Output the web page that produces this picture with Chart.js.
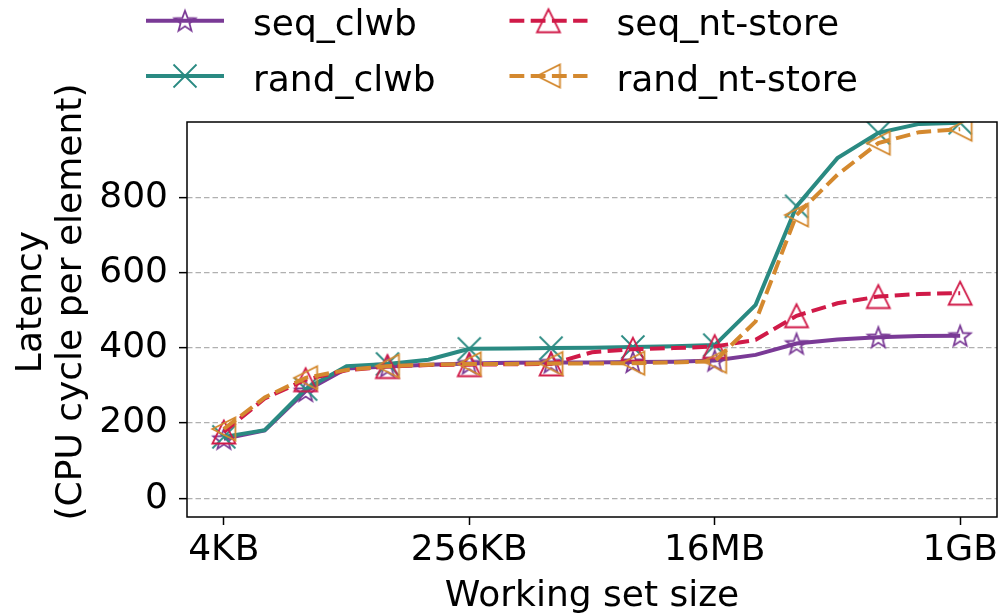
<!DOCTYPE html>
<html>
<head>
<meta charset="utf-8">
<script src="https://cdn.jsdelivr.net/npm/chart.js@4.4.1/dist/chart.umd.min.js"></script>
<style>
  html, body { margin: 0; padding: 0; background: #ffffff; }
  canvas { display: block; }
</style>
</head>
<body>
<canvas id="chart" width="1003" height="615"></canvas>
<script>
// Working set sizes as log2(bytes): 4KB (2^12) ... 1GB (2^30)
const sizeLog2 = [12, 13, 14, 15, 16, 17, 18, 19, 20, 21, 22, 23, 24, 25, 26, 27, 28, 29, 30];

// Latency in CPU cycles per element
const seqClwb     = [158, 180, 285, 345, 350, 355, 358, 360, 361, 361, 362, 363, 366, 381, 411, 422, 428, 431, 432];
const randClwb    = [163, 181, 290, 351, 357, 368, 397, 398, 399, 400, 402, 404, 407, 514, 776, 904, 971, 995, 998];
const seqNtStore  = [176, 265, 315, 340, 350, 354, 355, 356, 357, 388, 396, 399, 403, 421, 485, 518, 536, 543, 545];
const randNtStore = [184, 268, 320, 341, 351, 355, 357, 357, 358, 358, 359, 361, 364, 470, 753, 860, 944, 973, 981];

// Axis ticks
const xTickValues = [12, 18, 24, 30];
const xTickLabels = ['4KB', '256KB', '16MB', '1GB'];
const yTickValues = [0, 200, 400, 600, 800];

const FONT = '"DejaVu Sans", "Liberation Sans", sans-serif';
const FONT_SIZE = 36;

const COLORS = {
  seqClwb: '#7a3a96',
  randClwb: '#2a8a82',
  seqNt: '#d01a48',
  randNt: '#d4892f'
};

// Hollow marker glyphs drawn once onto small canvases
function makeMarker(shape, color) {
  const s = 32;
  const c = document.createElement('canvas');
  c.width = s; c.height = s;
  const g = c.getContext('2d');
  g.translate(s / 2, s / 2);
  g.strokeStyle = color;
  g.lineWidth = 1.8;
  g.lineJoin = 'miter';
  g.beginPath();
  if (shape === 'star') {
    const R = 11, r = R * 0.42;
    for (let k = 0; k < 10; k++) {
      const a = -Math.PI / 2 + k * Math.PI / 5;
      const rad = (k % 2) ? r : R;
      const px = Math.cos(a) * rad, py = Math.sin(a) * rad + 1;
      if (k === 0) g.moveTo(px, py); else g.lineTo(px, py);
    }
    g.closePath();
  } else if (shape === 'x') {
    const h = 11.5;
    g.moveTo(-h, -h); g.lineTo(h, h);
    g.moveTo(h, -h); g.lineTo(-h, h);
  } else if (shape === 'triUp') {
    const h = 11.5;
    g.moveTo(0, -h); g.lineTo(-h, h); g.lineTo(h, h); g.closePath();
  } else if (shape === 'triLeft') {
    const h = 11.5;
    g.moveTo(-h, 0); g.lineTo(h, -h); g.lineTo(h, h); g.closePath();
  }
  g.stroke();
  return c;
}

const markers = {
  seqClwb: makeMarker('star', COLORS.seqClwb),
  randClwb: makeMarker('x', COLORS.randClwb),
  seqNt: makeMarker('triUp', COLORS.seqNt),
  randNt: makeMarker('triLeft', COLORS.randNt)
};

const DASH = [14.8, 6.4];

function toPoints(values) {
  return values.map((v, i) => ({ x: sizeLog2[i], y: v }));
}

// markers on every other point
const everyOther = (ctx) => (ctx.dataIndex % 2 === 0 ? 11 : 0);

function series(label, values, key, dashed, order) {
  return {
    label,
    data: toPoints(values),
    borderColor: COLORS[key],
    backgroundColor: COLORS[key],
    borderWidth: 4,
    borderDash: dashed ? DASH : [],
    pointStyle: markers[key],
    pointRadius: everyOther,
    pointHoverRadius: everyOther,
    pointBorderWidth: 0,
    tension: 0,
    fill: false,
    clip: 0,
    order,
    legendKey: key,
    dashed
  };
}

const datasets = [
  series('seq_clwb', seqClwb, 'seqClwb', false, 4),
  series('rand_clwb', randClwb, 'randClwb', false, 3),
  series('seq_nt-store', seqNtStore, 'seqNt', true, 2),
  series('rand_nt-store', randNtStore, 'randNt', true, 1)
];

// Frame, y-axis title and two-column legend
const decorations = {
  id: 'decorations',
  afterDraw(chart) {
    const { ctx, chartArea: a } = chart;
    ctx.save();
    // plot frame
    ctx.strokeStyle = '#000';
    ctx.lineWidth = 1.5;
    ctx.setLineDash([]);
    ctx.strokeRect(a.left, a.top, a.right - a.left, a.bottom - a.top);

    // y-axis title (two lines)
    ctx.fillStyle = '#000';
    ctx.font = FONT_SIZE + 'px ' + FONT;
    ctx.textAlign = 'center';
    ctx.textBaseline = 'alphabetic';
    const yTitle = ['Latency', '(CPU cycle per element)'];
    const yTitleBase = [41, 81];
    yTitle.forEach((t, i) => {
      ctx.save();
      ctx.translate(yTitleBase[i], 302);
      ctx.rotate(-Math.PI / 2);
      ctx.fillText(t, 0, 0);
      ctx.restore();
    });

    // legend: column-major, two columns
    const cols = [146, 509.5];
    const rows = [20.7, 76];
    const lineLen = 78;
    const textGap = 107;
    datasets.forEach((ds, i) => {
      const col = Math.floor(i / 2), row = i % 2;
      const x0 = cols[col], y = rows[row];
      ctx.save();
      ctx.strokeStyle = ds.borderColor;
      ctx.lineWidth = 4;
      ctx.setLineDash(ds.dashed ? DASH : []);
      ctx.beginPath();
      ctx.moveTo(x0, y);
      ctx.lineTo(x0 + lineLen, y);
      ctx.stroke();
      ctx.restore();
      const m = markers[ds.legendKey];
      ctx.drawImage(m, x0 + lineLen / 2 - m.width / 2, y - m.height / 2);
      ctx.fillStyle = '#000';
      ctx.textAlign = 'left';
      ctx.textBaseline = 'alphabetic';
      ctx.fillText(ds.label, x0 + textGap, y + 14.5);
    });
    ctx.restore();
  }
};

new Chart(document.getElementById('chart'), {
  type: 'line',
  data: { datasets },
  options: {
    responsive: false,
    animation: false,
    devicePixelRatio: 1,
    layout: { autoPadding: false, padding: { top: 122, right: 6, left: 0, bottom: 0 } },
    plugins: {
      legend: { display: false },
      tooltip: { enabled: false }
    },
    scales: {
      x: {
        type: 'linear',
        min: 11.1,
        max: 30.9,
        afterFit(scale) {
          scale.height = 98;
          scale.paddingLeft = 0;
          scale.paddingRight = 0;
        },
        afterBuildTicks(scale) { scale.ticks = xTickValues.map(v => ({ value: v })); },
        ticks: {
          autoSkip: false,
          maxRotation: 0,
          padding: 4,
          color: '#000',
          font: { family: FONT, size: FONT_SIZE },
          callback: (v) => xTickLabels[xTickValues.indexOf(v)] ?? ''
        },
        grid: {
          display: true,
          drawOnChartArea: false,
          drawTicks: true,
          tickLength: 8,
          tickWidth: 1.5,
          tickColor: '#000',
          color: '#000'
        },
        border: { display: false },
        title: {
          display: true,
          text: 'Working set size',
          color: '#000',
          font: { family: FONT, size: FONT_SIZE },
          padding: { top: 0, bottom: -3 }
        }
      },
      y: {
        min: -50,
        max: 1000,
        afterFit(scale) {
          scale.width = 187;
          scale.paddingTop = 0;
          scale.paddingBottom = 0;
        },
        afterBuildTicks(scale) { scale.ticks = yTickValues.map(v => ({ value: v })); },
        ticks: {
          padding: 11,
          color: '#000',
          font: { family: FONT, size: FONT_SIZE }
        },
        grid: {
          display: true,
          drawOnChartArea: true,
          drawTicks: true,
          tickLength: 8,
          tickWidth: 1.5,
          tickColor: '#000',
          color: '#b0b0b0',
          lineWidth: 1.3
        },
        border: { display: false, dash: [5.5, 3] }
      }
    }
  },
  plugins: [decorations]
});
</script>
</body>
</html>
